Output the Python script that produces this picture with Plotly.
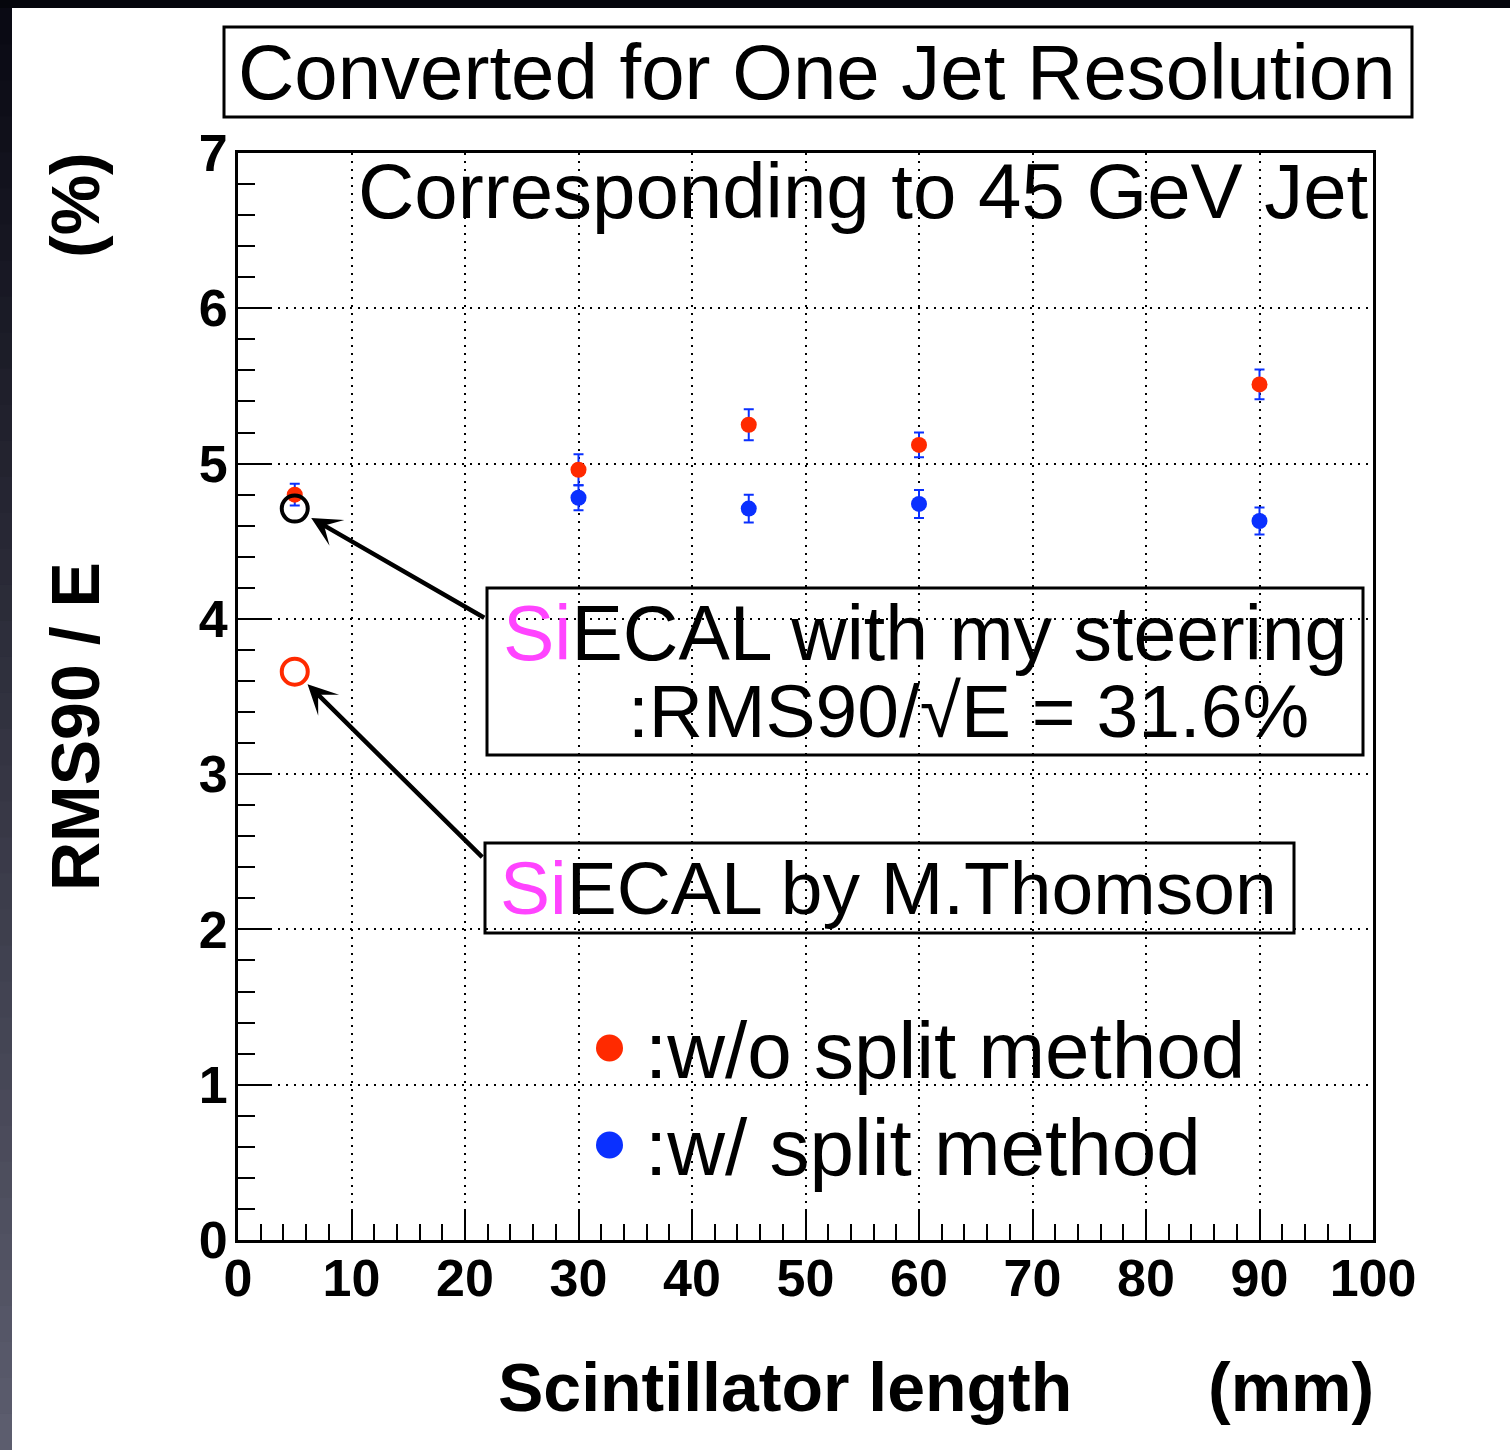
import plotly.graph_objects as go

# ---------------- data ----------------
length_mm = [5, 30, 45, 60, 90]
res_wo_split = [4.80, 4.96, 5.25, 5.12, 5.51]
err_wo_split = [0.07, 0.10, 0.10, 0.08, 0.095]

length_w = [30, 45, 60, 90]
res_w_split = [4.78, 4.71, 4.74, 4.63]
err_w_split = [0.08, 0.09, 0.09, 0.087]

ref_x = [5]
ref_my_steering = [4.71]
ref_thomson = [3.66]

x_ticks = [0, 10, 20, 30, 40, 50, 60, 70, 80, 90, 100]
y_ticks = [0, 1, 2, 3, 4, 5, 6, 7]

RED = "#ff2a00"
BLUE = "#0a30ff"
MAG = "#ff44ff"
FONT = "Liberation Sans"

# plot area in pixels
L, R, T, B = 238, 1373, 153, 1240
W, H = 1510, 1450


def px(x):
    return (x - L) / (R - L)


def py(y):
    return (B - y) / (B - T)


fig = go.Figure()

fig.add_trace(go.Scatter(
    x=length_mm, y=res_wo_split, mode="markers",
    marker=dict(color=RED, size=16),
    error_y=dict(type="data", array=err_wo_split, color=BLUE, thickness=2, width=5),
    showlegend=False))
fig.add_trace(go.Scatter(
    x=length_w, y=res_w_split, mode="markers",
    marker=dict(color=BLUE, size=16),
    error_y=dict(type="data", array=err_w_split, color=BLUE, thickness=2, width=5),
    showlegend=False))
fig.add_trace(go.Scatter(
    x=ref_x, y=ref_my_steering, mode="markers",
    marker=dict(symbol="circle-open", color="black", size=26, line=dict(width=4)),
    showlegend=False))
fig.add_trace(go.Scatter(
    x=ref_x, y=ref_thomson, mode="markers",
    marker=dict(symbol="circle-open", color=RED, size=26, line=dict(width=4)),
    showlegend=False))

shapes = []
# dark frame around the slide
shapes.append(dict(type="rect", xref="paper", yref="paper",
                   x0=px(0), x1=px(W), y0=py(0), y1=py(8),
                   fillcolor="#05060c", line=dict(width=0), layer="below"))
n = 40
for i in range(n):
    t = i / (n - 1)
    r = int(10 + t * (92 - 10))
    g = int(10 + t * (93 - 10))
    b = int(20 + t * (110 - 20))
    y0p = 8 + (H - 8) * i / n
    y1p = 8 + (H - 8) * (i + 1) / n
    shapes.append(dict(type="rect", xref="paper", yref="paper",
                       x0=px(0), x1=px(12), y0=py(y0p), y1=py(y1p + 1),
                       fillcolor=f"rgb({r},{g},{b})", line=dict(width=0), layer="below"))

# boxes
boxes = [(224, 27, 1412, 117), (487, 588, 1363, 755), (485, 843, 1294, 933)]
for x0, y0, x1, y1 in boxes:
    shapes.append(dict(type="rect", xref="paper", yref="paper",
                       x0=px(x0), x1=px(x1), y0=py(y0), y1=py(y1),
                       line=dict(color="black", width=3), fillcolor="rgba(0,0,0,0)"))
# legend dots
for cy, col in [(1048, RED), (1145, BLUE)]:
    shapes.append(dict(type="circle", xref="paper", yref="paper",
                       x0=px(596), x1=px(623), y0=py(cy + 13.5), y1=py(cy - 13.5),
                       fillcolor=col, line=dict(width=0)))

ann = []


def text(s, x, y, size=77, bold=False, anchor="left", angle=0):
    ann.append(dict(text=s, xref="paper", yref="paper", x=px(x), y=py(y),
                    xanchor=anchor, yanchor="middle", showarrow=False,
                    textangle=angle,
                    font=dict(family=FONT, size=size, color="black",
                              weight="bold" if bold else "normal")))


text("Converted for One Jet Resolution", 236, 72, size=78)
text("Corresponding to 45 GeV Jet", 356, 191, size=78)
text(f"<span style='color:{MAG}'>Si</span>ECAL with my steering", 501, 633)
text(":RMS90/√E = 31.6%", 626, 711, size=75)
text(f"<span style='color:{MAG}'>Si</span>ECAL by M.Thomson", 498, 888, size=75)
text(":w/o split method", 643, 1050, size=80)
text(":w/ split method", 643, 1147, size=80)

text("Scintillator length", 496, 1387, size=68, bold=True)
text("(mm)", 1206, 1387, size=68, bold=True)
text("RMS90 / E", 75, 727, size=68, bold=True, anchor="center", angle=-90)
text("(%)", 75, 205, size=68, bold=True, anchor="center", angle=-90)

# arrows
ann.append(dict(x=ref_x[0], y=ref_my_steering[0], xref="x", yref="y",
                ax=191, ay=110, showarrow=True, arrowhead=3, arrowsize=1.1,
                arrowwidth=4.5, arrowcolor="black", standoff=19, text=""))
ann.append(dict(x=ref_x[0], y=ref_thomson[0], xref="x", yref="y",
                ax=189, ay=187, showarrow=True, arrowhead=3, arrowsize=1.1,
                arrowwidth=4.5, arrowcolor="black", standoff=18, text=""))

tickfont = dict(family=FONT, size=52, color="black", weight="bold")
fig.update_layout(
    width=W, height=H,
    margin=dict(l=L, r=W - R, t=T, b=H - B),
    paper_bgcolor="white", plot_bgcolor="white",
    shapes=shapes, annotations=ann, showlegend=False,
    xaxis=dict(range=[0, 100], tickvals=x_ticks, ticktext=[str(v) for v in x_ticks],
               ticks="inside", ticklen=31, tickwidth=2, tickcolor="black",
               minor=dict(dtick=2, ticks="inside", ticklen=16, tickwidth=2,
                          tickcolor="black", showgrid=False),
               showline=True, linecolor="black", linewidth=3, mirror=True,
               showgrid=True, gridcolor="black", gridwidth=2, griddash="2px,6px",
               zeroline=False, tickfont=tickfont, ticklabelstandoff=-9),
    yaxis=dict(range=[0, 7], tickvals=y_ticks, ticktext=[str(v) for v in y_ticks],
               ticks="inside", ticklen=34, tickwidth=2, tickcolor="black",
               minor=dict(dtick=0.2, ticks="inside", ticklen=17, tickwidth=2,
                          tickcolor="black", showgrid=False),
               showline=True, linecolor="black", linewidth=3, mirror=True,
               showgrid=True, gridcolor="black", gridwidth=2, griddash="2px,6px",
               zeroline=False, tickfont=tickfont, ticklabelstandoff=-3),
)

fig.write_html("out.html", config={"displayModeBar": False},
               post_script="document.body.style.margin='0px';")
